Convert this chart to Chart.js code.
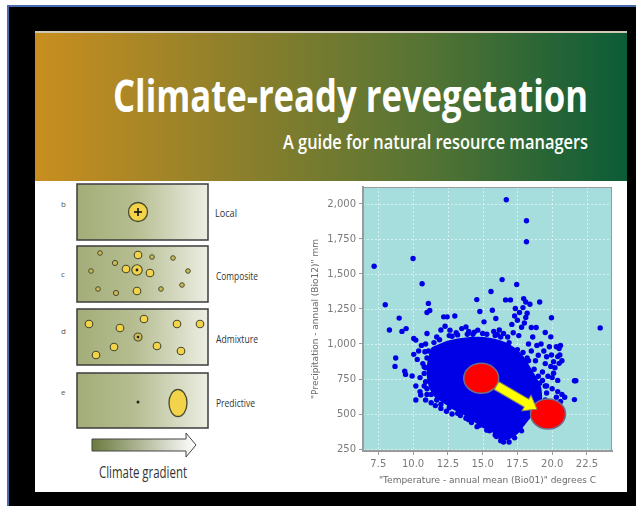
<!DOCTYPE html>
<html lang="en">
<head>
<meta charset="UTF-8">
<title>Climate-ready revegetation</title>
<script src="https://cdn.jsdelivr.net/npm/chart.js"></script>
<style>
  html, body { margin: 0; padding: 0; width: 636px; height: 506px; background: #fff; overflow: hidden; }
  .frame { position: absolute; left: 7px; top: 5px; right: 0; bottom: 0; background: #000;
           border-left: 2px solid #4a6aae; border-top: 2px solid #4a6aae; }
  .slide { position: absolute; left: 35px; top: 31px; width: 592px; height: 461px; background: #fff; }
  .banner { position: absolute; left: 35px; top: 31px; width: 592px; height: 150px; box-sizing: border-box;
            border-top: 2px solid #cfc9b4;
            background: linear-gradient(to right, #c98e1f 0%, #8f802b 33%, #557434 66%, #0b5c37 100%); }
  #art { position: absolute; left: 0; top: 0; }
  .chart-box { position: absolute; left: 297px; top: 183px; width: 319px; height: 307px; }
</style>
</head>
<body>
  <div class="frame"></div>
  <div class="slide"></div>
  <div class="banner"></div>

  <svg id="art" width="636" height="506" xmlns="http://www.w3.org/2000/svg">
    <defs>
      <linearGradient id="boxg" x1="0" x2="1" y1="0" y2="0">
        <stop offset="0" stop-color="#a3ad78"/>
        <stop offset="0.45" stop-color="#b6be92"/>
        <stop offset="1" stop-color="#eceee3"/>
      </linearGradient>
      <linearGradient id="arrg" x1="0" x2="1" y1="0" y2="0">
        <stop offset="0" stop-color="#6b7a3e"/>
        <stop offset="1" stop-color="#ffffff"/>
      </linearGradient>
    </defs>

    <!-- banner text -->
    <text x="113" y="112" font-family="Open Sans" font-weight="700" font-size="45" fill="#fff"
          textLength="475" lengthAdjust="spacingAndGlyphs">Climate-ready revegetation</text>
    <text x="283" y="149" font-family="Open Sans" font-weight="600" font-size="20" fill="#fff"
          textLength="305" lengthAdjust="spacingAndGlyphs">A guide for natural resource managers</text>

    <!-- seed sourcing boxes -->
    <g stroke="#3c3c3c" stroke-width="1.5" fill="url(#boxg)">
      <rect x="77" y="184" width="131" height="56"/>
      <rect x="77" y="246" width="131" height="56"/>
      <rect x="77" y="309" width="131" height="56"/>
      <rect x="77" y="373" width="131" height="55"/>
    </g>

    <g font-family="Open Sans" font-size="8" fill="#555">
      <text x="61" y="207">b</text>
      <text x="61" y="277">c</text>
      <text x="61" y="334">d</text>
      <text x="61" y="395">e</text>
    </g>
    <g font-family="Open Sans" font-size="11" fill="#333">
      <text x="215" y="217" textLength="22" lengthAdjust="spacingAndGlyphs">Local</text>
      <text x="216" y="280" textLength="42" lengthAdjust="spacingAndGlyphs">Composite</text>
      <text x="216" y="343" textLength="42" lengthAdjust="spacingAndGlyphs">Admixture</text>
      <text x="216" y="407" textLength="39" lengthAdjust="spacingAndGlyphs">Predictive</text>
    </g>

    <!-- local -->
    <g stroke="#4a4a30" stroke-width="1.3">
      <circle cx="138" cy="212" r="9.5" fill="#f3d34a"/>
      <line x1="134" y1="212" x2="142" y2="212" stroke="#111" stroke-width="1.6"/>
      <line x1="138" y1="208" x2="138" y2="216" stroke="#111" stroke-width="1.6"/>
    </g>
    <!-- composite -->
    <g stroke="#4a4a30" stroke-width="1" fill="#cdbb55">
      <circle cx="100" cy="253" r="2.3"/><circle cx="152" cy="257" r="2.3"/><circle cx="173" cy="258" r="2.3"/>
      <circle cx="115" cy="263" r="2.6"/><circle cx="91" cy="271" r="2.3"/><circle cx="188" cy="271" r="2.3"/>
      <circle cx="98" cy="289" r="2.3"/><circle cx="116" cy="293" r="2.6"/><circle cx="161" cy="289" r="2.3"/>
      <circle cx="182" cy="285" r="2.3"/>
    </g>
    <g stroke="#4a4a30" stroke-width="1.1" fill="#f3d34a">
      <circle cx="138" cy="255" r="3.8"/><circle cx="126" cy="269" r="3.8"/><circle cx="150" cy="273" r="3.8"/>
      <circle cx="137" cy="291" r="3.8"/><circle cx="137" cy="270" r="5.2"/>
    </g>
    <circle cx="137" cy="270" r="1.4" fill="#222"/>
    <!-- admixture -->
    <g stroke="#4a4a30" stroke-width="1.1" fill="#f3d34a">
      <circle cx="89" cy="324" r="3.8"/><circle cx="120" cy="328" r="3.8"/><circle cx="144" cy="319" r="3.8"/>
      <circle cx="177" cy="324" r="3.8"/><circle cx="200" cy="324" r="3.8"/><circle cx="114" cy="347" r="3.8"/>
      <circle cx="157" cy="346" r="3.8"/><circle cx="96" cy="355" r="3.8"/><circle cx="181" cy="351" r="3.8"/>
      <circle cx="138" cy="337" r="4" fill="#cdbb55"/>
    </g>
    <circle cx="138" cy="337" r="1.3" fill="#222"/>
    <!-- predictive -->
    <circle cx="138" cy="402" r="1.5" fill="#222"/>
    <ellipse cx="178" cy="403" rx="9" ry="13.5" fill="#f3d34a" stroke="#4a4a30" stroke-width="1.3"/>

    <!-- climate gradient arrow -->
    <polygon points="92,439 186,439 186,433 196,445 186,457 186,451 92,451"
             fill="url(#arrg)" stroke="#444" stroke-width="1"/>
    <text x="99" y="478" font-family="Open Sans" font-size="16" fill="#333"
          textLength="88" lengthAdjust="spacingAndGlyphs">Climate gradient</text>
  </svg>

  <div class="chart-box"><canvas id="scatter"></canvas></div>

<script>
// axis ticks
const tempTicks = [7.5, 10.0, 12.5, 15.0, 17.5, 20.0, 22.5];
const precTicks = [250, 500, 750, 1000, 1250, 1500, 1750, 2000];

// outline of the dense core of the point cloud (temperature, precipitation)
const cloudOutline = [
  [11.34, 968], [12.29, 1010], [13.47, 1035], [14.65, 1045], [15.59, 1035], [16.53, 1010],
  [17.24, 970], [17.83, 915], [18.18, 862], [18.54, 802], [18.89, 743], [19.15, 684],
  [19.2, 613], [18.89, 542], [18.42, 482], [17.95, 423], [17.48, 364], [16.77, 320],
  [16.18, 332], [15.71, 378], [15.12, 402], [14.41, 450], [13.70, 497], [13.0, 533],
  [12.29, 580], [11.58, 628], [11.2, 696], [11.05, 779], [11.1, 874], [11.34, 968]
];

// ragged edge of the dense core
const edgeDots = [
  [11.5, 1010], [11.9, 1030], [12.8, 1055], [13.2, 1065], [13.9, 1070], [14.4, 1085], [15.0, 1075],
  [15.9, 1060], [16.3, 1050], [16.9, 1010], [17.5, 960], [17.9, 940], [18.3, 880], [18.7, 820],
  [19.0, 770], [19.3, 740], [19.5, 700], [19.6, 650], [19.5, 600], [17.8, 380], [17.3, 330],
  [16.9, 300], [16.3, 310], [15.9, 350], [15.3, 385], [14.6, 410], [14.2, 440], [13.8, 470],
  [13.2, 505], [12.6, 545], [12.0, 570], [11.7, 600], [11.3, 640], [11.0, 680], [10.9, 730],
  [10.8, 790], [10.9, 830], [11.0, 900], [11.1, 950]
];

// single sites outside the core
const sparseDots = [
  [7.2, 1555], [8.0, 1280], [8.3, 1100], [9.0, 1185], [8.75, 900], [8.7, 840], [9.4, 805], [9.46, 783],
  [9.2, 1090], [9.5, 1110], [10.0, 1610], [10.65, 1430], [10.05, 1040], [10.2, 1028], [10.05, 926],
  [10.2, 600], [9.93, 772], [11.1, 1290], [11.0, 1225], [11.2, 1240], [12.2, 1194], [12.45, 1194],
  [13.0, 1200], [15.6, 1375], [14.58, 1317], [14.8, 1232], [15.7, 1241], [16.4, 1460], [16.7, 2030],
  [18.15, 1880], [18.15, 1730], [17.45, 1425], [16.65, 1315], [17.0, 1315], [17.95, 1324], [18.1, 1300],
  [18.4, 1284], [19.1, 1300], [19.95, 1187], [23.45, 1115], [21.6, 738], [21.7, 738], [21.6, 603],
  [20.3, 980], [20.5, 968], [19.9, 1051], [19.5, 1082], [18.5, 1118], [18.85, 1118], [17.35, 1253],
  [17.65, 1225], [17.5, 1170], [12.3, 1127], [12.65, 1099], [13.8, 1122], [14.65, 1099], [15.1, 1158],
  [15.95, 1182], [16.5, 1075], [16.05, 1068], [19.6, 909], [19.95, 921], [20.1, 874], [20.55, 921],
  [20.5, 862], [20.1, 791], [10.85, 945], [10.8, 838], [10.5, 660], [10.55, 636],
  [10.9, 1000], [11.0, 1075], [10.6, 990], [10.4, 950], [10.3, 890], [10.7, 860], [10.5, 760],
  [10.2, 700], [10.8, 700], [11.0, 640], [10.9, 600], [11.3, 580], [11.6, 560], [12.0, 540],
  [12.4, 520], [12.8, 500], [11.7, 1050], [12.0, 1100], [12.6, 1060], [13.1, 1080], [13.5, 1110],
  [14.0, 1090], [14.3, 1070], [15.3, 1070], [15.8, 1090], [16.2, 1100], [16.8, 1050], [17.2, 1080],
  [17.6, 1060], [17.1, 1140], [17.8, 1120], [18.0, 1150], [17.3, 1200], [17.9, 1260], [18.1, 1190],
  [18.2, 1220], [18.3, 1000], [18.6, 1050], [18.9, 990], [19.2, 1000], [18.5, 950], [19.0, 920],
  [19.4, 950], [19.8, 980], [20.6, 990], [20.4, 910], [20.7, 880], [19.5, 860], [19.9, 840],
  [20.2, 830], [19.3, 800], [19.7, 770], [20.0, 760], [20.4, 740], [19.1, 720], [19.6, 700],
  [20.0, 680], [20.4, 660], [20.7, 640], [20.9, 620], [20.6, 590], [20.3, 620], [18.8, 880],
  [18.2, 900], [16.5, 300], [16.0, 340], [15.5, 380], [14.8, 420], [14.0, 460], [13.4, 490],
  [17.2, 350], [17.7, 400]
];

// present and projected climate of the site, and the shift between them
const siteTemp = [14.9, 19.7];
const sitePrec = [755, 500];
const shiftTemp = [16.0, 18.9];
const shiftPrec = [703, 535];

const toXY = pairs => pairs.map(p => ({ x: p[0], y: p[1] }));

const plotFrame = {
  id: 'plotFrame',
  beforeDatasetsDraw(chart) {
    const { ctx, chartArea: a } = chart;
    ctx.save();
    ctx.fillStyle = '#a6dede';
    ctx.fillRect(a.left, a.top, a.right - a.left, a.bottom - a.top);
    ctx.restore();
  },
  afterDraw(chart) {
    const { ctx, chartArea: a } = chart;
    ctx.save();
    ctx.strokeStyle = '#9a9a9a';
    ctx.lineWidth = 1;
    ctx.strokeRect(a.left + 0.5, a.top + 0.5, a.right - a.left - 1, a.bottom - a.top - 1);
    ctx.restore();
  }
};

// grid lines go on top of the plot background
const whiteGrid = {
  id: 'whiteGrid',
  beforeDatasetsDraw(chart) {
    const { ctx, chartArea: a, scales: { x, y } } = chart;
    ctx.save();
    ctx.strokeStyle = 'rgba(255,255,255,0.55)';
    ctx.lineWidth = 1;
    ctx.setLineDash([2, 2]);
    tempTicks.forEach(t => {
      const px = Math.round(x.getPixelForValue(t)) + 0.5;
      ctx.beginPath(); ctx.moveTo(px, a.top); ctx.lineTo(px, a.bottom); ctx.stroke();
    });
    precTicks.forEach(p => {
      const py = Math.round(y.getPixelForValue(p)) + 0.5;
      ctx.beginPath(); ctx.moveTo(a.left, py); ctx.lineTo(a.right, py); ctx.stroke();
    });
    ctx.restore();
  }
};

const shiftMarks = {
  id: 'shiftMarks',
  afterDatasetsDraw(chart) {
    const { ctx, scales: { x, y } } = chart;
    ctx.save();
    siteTemp.forEach((t, i) => {
      ctx.beginPath();
      ctx.ellipse(x.getPixelForValue(t), y.getPixelForValue(sitePrec[i]), 17.5, 15, 0, 0, Math.PI * 2);
      ctx.fillStyle = '#ff0000';
      ctx.fill();
      ctx.strokeStyle = '#6e6e8c';
      ctx.lineWidth = 1.5;
      ctx.stroke();
    });
    const x0 = x.getPixelForValue(shiftTemp[0]), y0 = y.getPixelForValue(shiftPrec[0]);
    const x1 = x.getPixelForValue(shiftTemp[1]), y1 = y.getPixelForValue(shiftPrec[1]);
    const len = Math.hypot(x1 - x0, y1 - y0);
    ctx.translate(x0, y0);
    ctx.rotate(Math.atan2(y1 - y0, x1 - x0));
    ctx.beginPath();
    ctx.moveTo(0, -4.5);
    ctx.lineTo(len - 12, -4.5);
    ctx.lineTo(len - 12, -9);
    ctx.lineTo(len, 0);
    ctx.lineTo(len - 12, 9);
    ctx.lineTo(len - 12, 4.5);
    ctx.lineTo(0, 4.5);
    ctx.closePath();
    ctx.fillStyle = '#ffff00';
    ctx.fill();
    ctx.strokeStyle = '#8a8a60';
    ctx.lineWidth = 1;
    ctx.stroke();
    ctx.restore();
  }
};

const tickFont = { family: 'DejaVu Sans', size: 10 };
const titleFont = { family: 'DejaVu Sans', size: 9 };

new Chart(document.getElementById('scatter'), {
  type: 'scatter',
  data: {
    datasets: [
      {
        type: 'line',
        data: toXY(cloudOutline),
        fill: 'shape',
        backgroundColor: '#0000e6',
        borderColor: '#0000e6',
        borderWidth: 2,
        tension: 0.15,
        pointRadius: 0
      },
      {
        data: toXY(edgeDots),
        backgroundColor: '#0000e6',
        borderWidth: 0,
        pointRadius: 2.7
      },
      {
        data: toXY(sparseDots),
        backgroundColor: '#0000e6',
        borderWidth: 0,
        pointRadius: 2.7
      }
    ]
  },
  options: {
    responsive: true,
    maintainAspectRatio: false,
    animation: false,
    layout: { padding: { top: 2, right: 0, left: 0, bottom: 0 } },
    plugins: { legend: { display: false }, tooltip: { enabled: false } },
    scales: {
      x: {
        type: 'linear',
        min: 6.4,
        max: 24.3,
        afterBuildTicks: s => { s.ticks = tempTicks.map(v => ({ value: v })); },
        afterFit: s => { s.height = 39; s.paddingLeft = 0; s.paddingRight = 0; },
        ticks: { font: tickFont, color: '#7a7a7a', padding: 3, maxRotation: 0,
                 callback: v => v.toFixed(1) },
        grid: { display: true, drawOnChartArea: false, tickLength: 4, tickColor: '#9a9a9a' },
        border: { color: '#9a9a9a', width: 2 },
        title: { display: true, text: '"Temperature - annual mean (Bio01)" degrees C',
                 font: titleFont, color: '#6a6a6a', padding: { top: 0, bottom: 4 } }
      },
      y: {
        type: 'linear',
        min: 236,
        max: 2121,
        afterBuildTicks: s => { s.ticks = precTicks.map(v => ({ value: v })); },
        afterFit: s => { s.width = 66; s.paddingTop = 0; s.paddingBottom = 0; },
        ticks: { font: tickFont, color: '#7a7a7a', padding: 3,
                 callback: v => v.toLocaleString('en-US') },
        grid: { display: true, drawOnChartArea: false, tickLength: 4, tickColor: '#9a9a9a' },
        border: { color: '#9a9a9a', width: 2 },
        title: { display: true, text: '"Precipitation - annual (Bio12)" mm',
                 font: titleFont, color: '#6a6a6a', padding: { top: 13, bottom: 0 } }
      }
    }
  },
  plugins: [plotFrame, whiteGrid, shiftMarks]
});
</script>
</body>
</html>
